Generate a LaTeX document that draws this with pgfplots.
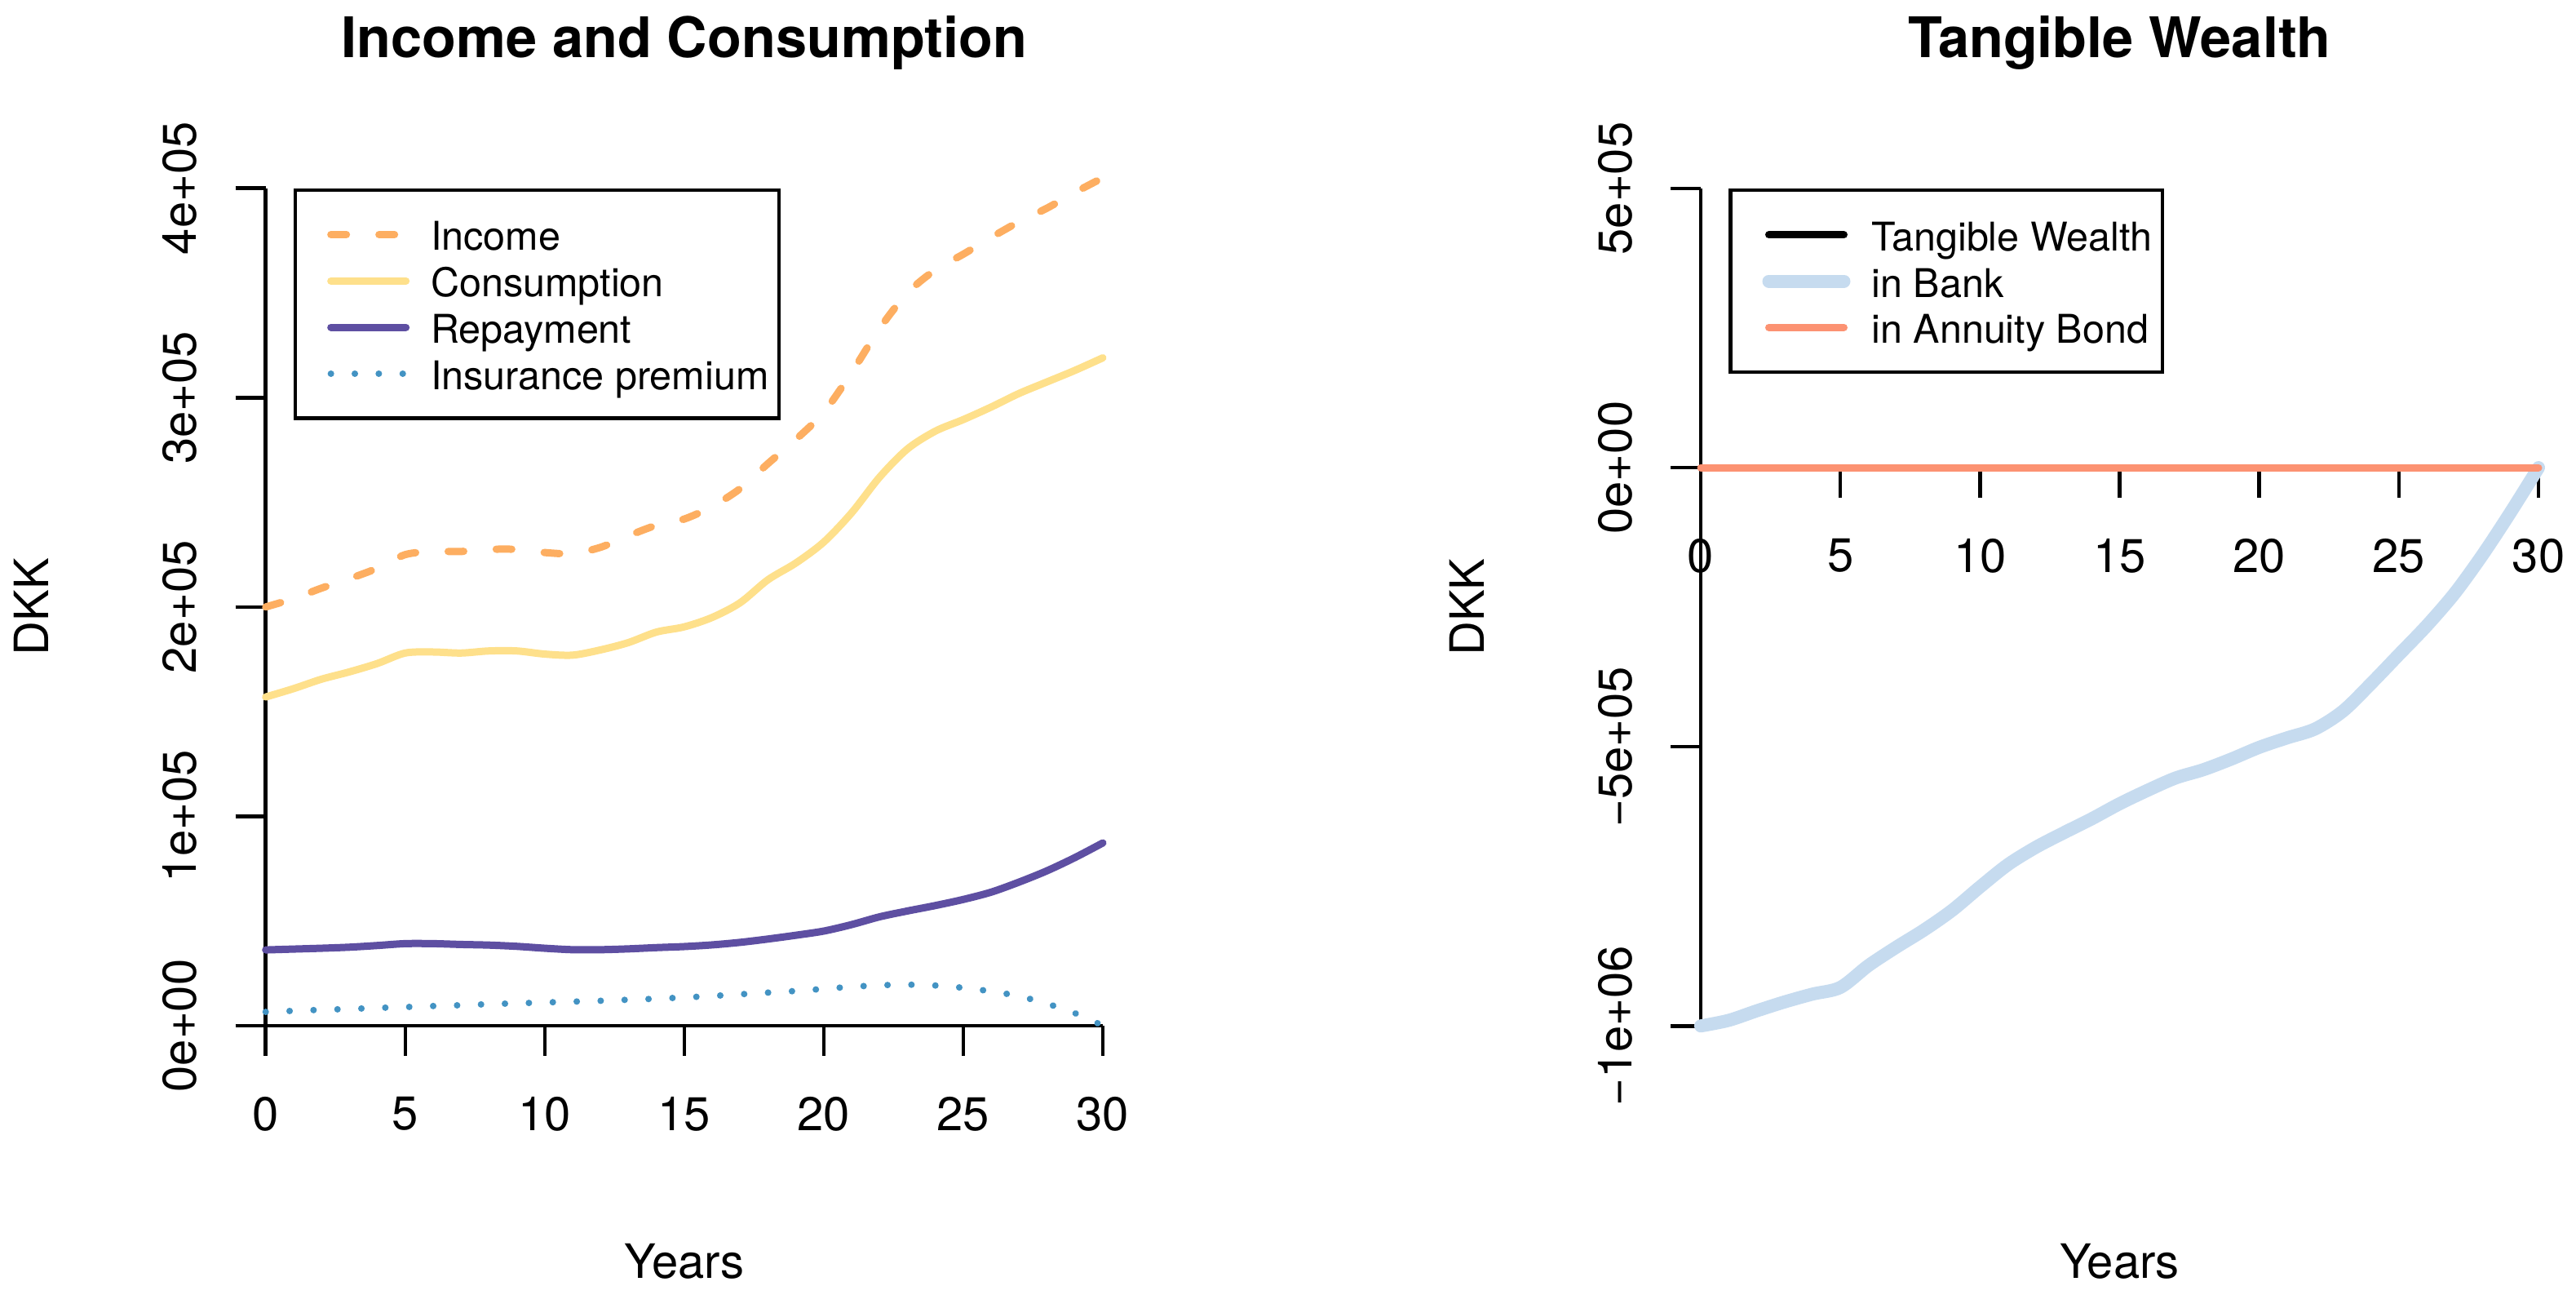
\documentclass[border=0pt]{standalone}
\usepackage{fontspec}
\setmainfont{TeX Gyre Heros}
\usepackage{pgfplots}
\pgfplotsset{compat=1.18}

\definecolor{income}{HTML}{FDAE61}
\definecolor{consum}{HTML}{FEE08B}
\definecolor{repay}{HTML}{5E4FA2}
\definecolor{insur}{HTML}{4393C3}
\definecolor{bank}{HTML}{C6DBEF}
\definecolor{bond}{HTML}{FC9272}

% R base-graphics look: separate spines, outward ticks, rotated y labels
\pgfplotsset{
  rpanel/.style={
    axis x line*=#1, axis y line*=left,
    scale only axis, height=205.26pt,
    xmin=0, xmax=30, clip=false,
    scaled y ticks=false,
    hide obscured x ticks=false, hide obscured y ticks=false,
    axis line style={line width=0.9pt, black, -},
    tick align=outside, major tick length=7.4pt,
    tick style={line width=0.9pt, black},
    xtick={0,5,...,30}, xticklabels={0,5,10,15,20,25,30},
    tick label style={font=\fontsize{11.6}{13}\selectfont, inner sep=0pt},
    xticklabel style={anchor=north, yshift=-9.8pt},
    yticklabel style={xshift=-9.2pt, rotate=90, anchor=south},
    every axis title shift=0pt,
    title style={at={(axis description cs:0.5,1.1564)}, anchor=base, yshift=0pt,
      font=\bfseries\fontsize{13.7}{16}\selectfont},
    xlabel style={at={(axis description cs:0.5,-0.3011)}, anchor=base,
      font=\fontsize{11.6}{13}\selectfont},
    ylabel style={at={(axis description cs:-0.2589,0.5)}, anchor=base,
      font=\fontsize{11.6}{13}\selectfont},
    legend cell align=left,
    legend image code/.code={\path (0pt,0pt); \draw[##1] (5.3pt,0pt) -- (23.7pt,0pt);},
    legend style={anchor=north west, draw=black, line width=0.9pt,
      inner xsep=2.5pt, inner ysep=7pt, font=\fontsize{9.7}{11.6}\selectfont,
      row sep=3.56pt, nodes={inner sep=0pt, text height=7.8pt, text depth=0pt},
      /tikz/every odd column/.append style={column sep=5.2pt}},
  },
  every axis plot/.append style={line cap=round, line join=round},
}

\begin{document}
\begin{tikzpicture}
\path[use as bounding box] (0,0) rectangle (631.6pt,317.4pt);

\begin{axis}[rpanel=bottom,
  at={(65.14pt,66pt)}, anchor=south west, width=205.26pt,
  ymin=0, ymax=400000,
  ytick={0,100000,200000,300000,400000},
  yticklabels={0e+00,1e+05,2e+05,3e+05,4e+05},
  title={Income and Consumption}, xlabel={Years}, ylabel={DKK},
  legend style={at={(axis cs:1,400000)}},
]
\addplot[income, line width=1.8pt, dash pattern=on 3.8pt off 8pt, smooth, tension=0.5] coordinates {
(0,200000) (1,204000) (2,209000) (3,213500) (4,218500) (5,225000)
(6,226500) (7,226500) (8,227500) (9,227500) (10,226000) (11,225500)
(12,228500) (13,234000) (14,239000) (15,242000) (16,248000) (17,256500)
(18,268500) (19,280000) (20,293000) (21,312000) (22,333000) (23,350000)
(24,361000) (25,368500) (26,376500) (27,384000) (28,390500) (29,398000)
(30,405000)};
\addlegendentry{Income}
\addplot[consum, line width=1.8pt, smooth, tension=0.5] coordinates {
(0,157000) (1,161000) (2,165500) (3,169000) (4,173000) (5,178000)
(6,178500) (7,178000) (8,179000) (9,179000) (10,177500) (11,177000)
(12,179500) (13,183000) (14,188000) (15,190500) (16,195000) (17,202000)
(18,213000) (19,221000) (20,231000) (21,245000) (22,262000) (23,275500)
(24,284000) (25,289500) (26,295500) (27,302000) (28,307500) (29,313000)
(30,319000)};
\addlegendentry{Consumption}
\addplot[repay, line width=1.8pt, smooth, tension=0.5] coordinates {
(0,36200) (1,36600) (2,37000) (3,37500) (4,38300) (5,39200)
(6,39200) (7,38800) (8,38500) (9,37900) (10,37000) (11,36300)
(12,36300) (13,36700) (14,37300) (15,37800) (16,38600) (17,39800)
(18,41400) (19,43200) (20,45200) (21,48300) (22,52000) (23,54800)
(24,57400) (25,60300) (26,63800) (27,68600) (28,74000) (29,80300)
(30,87300)};
\addlegendentry{Repayment}
\addplot[insur, line width=1.6pt, dash pattern=on 0.01pt off 5.86pt, smooth, tension=0.5] coordinates {
(0,6600) (1,7100) (2,7600) (3,8000) (4,8500) (5,8900)
(6,9400) (7,9800) (8,10300) (9,10700) (10,11100) (11,11500)
(12,11900) (13,12400) (14,12900) (15,13500) (16,14200) (17,15000)
(18,15800) (19,16600) (20,17600) (21,18600) (22,19300) (23,19600)
(24,19200) (25,18100) (26,16400) (27,14100) (28,10500) (29,6000)
(30,0)};
\addlegendentry{Insurance premium}
\end{axis}

\begin{axis}[rpanel=middle,
  at={(417pt,65.94pt)}, anchor=south west, width=205.4pt,
  ymin=-1000000, ymax=500000,
  ytick={-1000000,-500000,0,500000},
  yticklabels={−1e+06,−5e+05,0e+00,5e+05},
  title={Tangible Wealth}, xlabel={Years}, ylabel={DKK},
  legend style={at={(axis cs:1,500000)}},
]
\addplot[black, line width=1.8pt, smooth, tension=0.5] coordinates {
(0,-1000000) (1,-990000) (2,-973000) (3,-957000) (4,-943000) (5,-931000)
(6,-892000) (7,-859000) (8,-828000) (9,-793000) (10,-751000) (11,-711000)
(12,-680000) (13,-654000) (14,-629000) (15,-602000) (16,-578000) (17,-556000)
(18,-541000) (19,-522000) (20,-501000) (21,-484000) (22,-468000) (23,-436000)
(24,-387000) (25,-335000) (26,-283000) (27,-225000) (28,-156000) (29,-80000)
(30,0)};
\addlegendentry{Tangible Wealth}
\addplot[bank, line width=3.2pt, smooth, tension=0.5] coordinates {
(0,-1000000) (1,-990000) (2,-973000) (3,-957000) (4,-943000) (5,-931000)
(6,-892000) (7,-859000) (8,-828000) (9,-793000) (10,-751000) (11,-711000)
(12,-680000) (13,-654000) (14,-629000) (15,-602000) (16,-578000) (17,-556000)
(18,-541000) (19,-522000) (20,-501000) (21,-484000) (22,-468000) (23,-436000)
(24,-387000) (25,-335000) (26,-283000) (27,-225000) (28,-156000) (29,-80000)
(30,0)};
\addlegendentry{in Bank}
\addplot[bond, line width=1.8pt] coordinates {(0,0) (10,0) (20,0) (30,0)};
\addlegendentry{in Annuity Bond}
\end{axis}
\end{tikzpicture}
\end{document}
